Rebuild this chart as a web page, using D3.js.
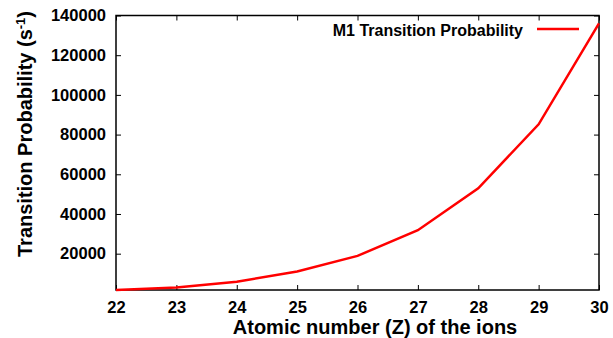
<!DOCTYPE html>
<html>
<head>
<meta charset="utf-8">
<script src="https://cdn.jsdelivr.net/npm/d3@7"></script>
<style>
  body { margin: 0; background: #fff; }
  text { font-family: "Liberation Sans", Arial, sans-serif; font-weight: bold; fill: #000; }
</style>
</head>
<body>
<div id="chart"></div>
<script>
// data
var atomicNumbers = [22, 23, 24, 25, 26, 27, 28, 29, 30];
var m1Probability = [1700, 3000, 5900, 11000, 18900, 31800, 52900, 85200, 136000];
var yTickValues = [20000, 40000, 60000, 80000, 100000, 120000, 140000];

var svgWidth = 613;
var svgHeight = 338;

var margin = { top: 15.5, right: 14, bottom: 48, left: 116 };
var width = svgWidth - margin.left - margin.right;
var height = svgHeight - margin.top - margin.bottom;

var svg = d3.select("#chart")
  .append("svg")
  .attr("width", svgWidth)
  .attr("height", svgHeight);

var chartGroup = svg.append("g")
  .attr("transform", `translate(${margin.left}, ${margin.top})`);

var xScale = d3.scaleLinear().domain([22, 30]).range([0, width]);
var yScale = d3.scaleLinear().domain([1700, 140000]).range([height, 0]);

// inward ticks, mirrored on all sides
function styleAxis(g) {
  g.select(".domain").remove();
  g.selectAll(".tick line").attr("stroke", "#000").attr("stroke-width", 1);
  g.selectAll(".tick text").style("font-size", "16.5px");
}

chartGroup.append("g")
  .attr("transform", `translate(0, ${height})`)
  .call(d3.axisBottom(xScale).tickValues(atomicNumbers).tickSize(-5).tickPadding(11).tickFormat(d3.format("d")))
  .call(styleAxis);

chartGroup.append("g")
  .call(d3.axisTop(xScale).tickValues(atomicNumbers).tickSize(-5).tickFormat(""))
  .call(styleAxis);

chartGroup.append("g")
  .call(d3.axisLeft(yScale).tickValues(yTickValues).tickSize(-5).tickPadding(10).tickFormat(d3.format("d")))
  .call(styleAxis);

chartGroup.append("g")
  .attr("transform", `translate(${width}, 0)`)
  .call(d3.axisRight(yScale).tickValues(yTickValues).tickSize(-5).tickFormat(""))
  .call(styleAxis);

// frame
chartGroup.append("rect")
  .attr("width", width)
  .attr("height", height)
  .attr("fill", "none")
  .attr("stroke", "#000")
  .attr("stroke-width", 1.5);

// line
var line = d3.line()
  .x((d, i) => xScale(atomicNumbers[i]))
  .y(d => yScale(d));

chartGroup.append("path")
  .datum(m1Probability)
  .attr("fill", "none")
  .attr("stroke", "#ff0000")
  .attr("stroke-width", 2.5)
  .attr("d", line);

// legend
chartGroup.append("text")
  .attr("x", 407)
  .attr("y", 20)
  .style("font-size", "16px")
  .style("text-anchor", "end")
  .text("M1 Transition Probability");

chartGroup.append("line")
  .attr("x1", 421)
  .attr("x2", 463)
  .attr("y1", 13.5)
  .attr("y2", 13.5)
  .attr("stroke", "#ff0000")
  .attr("stroke-width", 2.5);

// axis titles
svg.append("text")
  .attr("x", 375)
  .attr("y", 334)
  .style("font-size", "20px")
  .style("text-anchor", "middle")
  .text("Atomic number (Z) of the ions");

var yTitle = svg.append("text")
  .attr("transform", "translate(31.5, 134) rotate(-90)")
  .style("font-size", "20px")
  .style("text-anchor", "middle");
yTitle.append("tspan").text("Transition Probability (s");
yTitle.append("tspan").attr("dy", -7).style("font-size", "13px").text("-1");
yTitle.append("tspan").attr("dy", 7).text(")");
</script>
</body>
</html>
